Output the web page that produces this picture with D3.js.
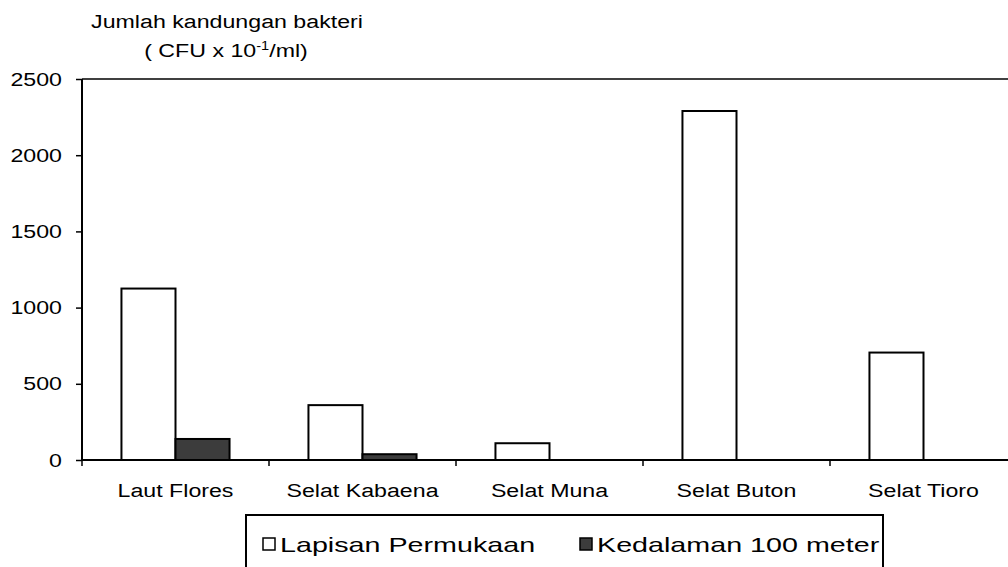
<!DOCTYPE html>
<html>
<head>
<meta charset="utf-8">
<script src="https://cdn.jsdelivr.net/npm/d3@7"></script>
<style>
  body { margin: 0; background: #fff; }
  svg text { font-family: "Liberation Sans", Arial, sans-serif; fill: #000; }
</style>
</head>
<body>
<svg id="chart" width="1008" height="567"></svg>
<script>
// data
const categories = ['Laut Flores', 'Selat Kabaena', 'Selat Muna', 'Selat Buton', 'Selat Tioro'];
const seriesNames = ['Lapisan Permukaan', 'Kedalaman 100 meter'];
const permukaan = [1125, 360, 110, 2290, 705];
const kedalaman = [138, 38, 0, 0, 0];
const yTicks = [0, 500, 1000, 1500, 2000, 2500];
const colors = ['#ffffff', '#3c3c3c'];

const svg = d3.select('#chart');

// the original picture is stretched sideways, so text gets a scaleX
const sx = 1.22;
const fontSize = '19px';

// plot area
const plotLeft = 82, plotRight = 1017, plotTop = 79, plotBottom = 460;

const yScale = d3.scaleLinear()
  .domain([0, 2500])
  .range([plotBottom, plotTop]);

const xScale = d3.scaleBand()
  .domain(categories)
  .range([plotLeft, plotRight])
  .padding(0);

const xInner = d3.scaleBand()
  .domain(seriesNames)
  .range([0, xScale.bandwidth()])
  .paddingInner(0)
  .paddingOuter(0.73);

function stretchedText(parent, x, y, str, size, scale, anchor) {
  return parent.append('text')
    .attr('transform', `translate(${x},${y}) scale(${scale},1)`)
    .attr('text-anchor', anchor || 'start')
    .style('font-size', size)
    .text(str);
}

// top border of plot area
svg.append('line')
  .attr('x1', plotLeft).attr('x2', plotRight)
  .attr('y1', plotTop).attr('y2', plotTop)
  .attr('stroke', '#000').attr('stroke-width', 1.5);

// bars
const rows = [];
categories.forEach((c, i) => {
  rows.push({ cat: c, s: seriesNames[0], v: permukaan[i], fill: colors[0] });
  rows.push({ cat: c, s: seriesNames[1], v: kedalaman[i], fill: colors[1] });
});

svg.append('g').selectAll('rect')
  .data(rows.filter(d => d.v > 0))
  .enter()
  .append('rect')
  .attr('x', d => xScale(d.cat) + xInner(d.s))
  .attr('y', d => yScale(d.v))
  .attr('width', xInner.bandwidth())
  .attr('height', d => plotBottom - yScale(d.v))
  .attr('fill', d => d.fill)
  .attr('stroke', '#000')
  .attr('stroke-width', 2);

// y axis
const yAxis = svg.append('g')
  .attr('transform', `translate(${plotLeft},0)`)
  .call(d3.axisLeft(yScale).tickValues(yTicks).tickSize(6).tickFormat(d3.format('d')));
yAxis.select('.domain').attr('stroke', '#000').attr('stroke-width', 2)
  .attr('d', `M0,${plotTop}V${plotBottom}`);
yAxis.selectAll('.tick line').attr('stroke', '#000').attr('stroke-width', 1.5);
yAxis.selectAll('.tick text')
  .style('font-size', fontSize)
  .attr('x', -20 / sx)
  .attr('transform', `scale(${sx},1)`);

// x axis with ticks at category boundaries
const xAxis = svg.append('g')
  .attr('transform', `translate(0,${plotBottom})`);
xAxis.append('line')
  .attr('x1', plotLeft).attr('x2', plotRight)
  .attr('stroke', '#000').attr('stroke-width', 2);
xAxis.selectAll('.xtick')
  .data(categories)
  .enter()
  .append('line')
  .attr('class', 'xtick')
  .attr('x1', d => xScale(d)).attr('x2', d => xScale(d))
  .attr('y1', 0).attr('y2', 6)
  .attr('stroke', '#000').attr('stroke-width', 1.5);
categories.forEach(c => {
  stretchedText(xAxis, xScale(c) + xScale.bandwidth() / 2, 37, c, fontSize, sx, 'middle');
});

// axis title
stretchedText(svg, 227, 28, 'Jumlah kandungan bakteri', fontSize, sx, 'middle');
const sub = stretchedText(svg, 226, 57, '', fontSize, sx, 'middle');
sub.append('tspan').text('( CFU x 10');
sub.append('tspan').attr('dy', -7).style('font-size', '12px').text('-1');
sub.append('tspan').attr('dy', 7).text('/ml)');

// legend
const legend = svg.append('g');
legend.append('rect')
  .attr('x', 246).attr('y', 515)
  .attr('width', 637).attr('height', 60)
  .attr('fill', '#fff').attr('stroke', '#000').attr('stroke-width', 2);

const legendX = [263, 580];
seriesNames.forEach((name, i) => {
  legend.append('rect')
    .attr('x', legendX[i]).attr('y', 538)
    .attr('width', 12).attr('height', 12)
    .attr('fill', colors[i]).attr('stroke', '#000').attr('stroke-width', 1.5);
  stretchedText(legend, legendX[i] + 17, 552, name, '20.5px', 1.4, 'start');
});
</script>
</body>
</html>
